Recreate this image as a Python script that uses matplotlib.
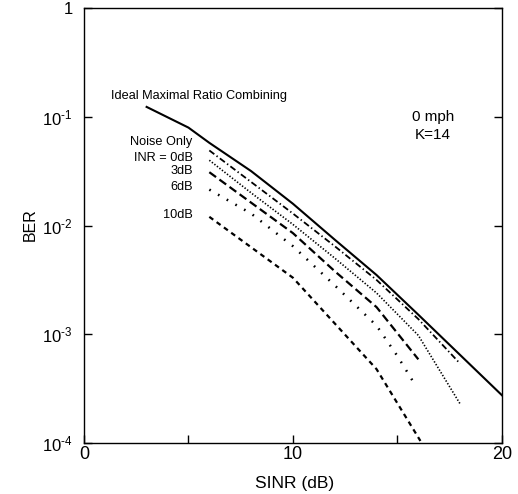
import matplotlib
matplotlib.use("Agg")
import matplotlib.pyplot as plt
import numpy as np

plt.rcParams['font.family'] = ['Liberation Sans', 'DejaVu Sans']
plt.rcParams['mathtext.fontset'] = 'custom'
plt.rcParams['mathtext.rm'] = 'Liberation Sans'
plt.rcParams['mathtext.it'] = 'Liberation Sans'
plt.rcParams['lines.scale_dashes'] = False

# data: SINR (dB) and -log10(BER)
mrc_x = [3, 5, 6, 8, 10, 12, 14, 16, 18, 20]
mrc_d = [0.91, 1.10, 1.24, 1.50, 1.80, 2.13, 2.455, 2.82, 3.19, 3.56]

noise_x = [6, 8, 10, 12, 14, 16, 18]
noise_d = [1.31, 1.60, 1.89, 2.19, 2.50, 2.86, 3.27]

inr0_x = [6, 8, 10, 12, 14, 16, 18]
inr0_d = [1.40, 1.70, 1.99, 2.30, 2.62, 3.01, 3.64]

inr3_x = [6, 8, 10, 12, 14, 16]
inr3_d = [1.51, 1.79, 2.07, 2.42, 2.75, 3.23]

inr6_x = [6, 8, 10, 12, 14, 15, 15.8]
inr6_d = [1.67, 1.89, 2.19, 2.55, 2.92, 3.20, 3.45]

inr10_x = [6, 8, 10, 12, 14, 16.1]
inr10_d = [1.92, 2.20, 2.48, 2.90, 3.32, 3.98]

ytick_vals = [1e-4, 1e-3, 1e-2, 1e-1, 1]
ytick_text = ['$10^{\u20104}$', '$10^{\u20103}$', '$10^{\u20102}$', '$10^{\u20101}$', '1']

def ber(d):
    return 10.0 ** (-np.array(d))

fig = plt.figure(figsize=(5.18, 4.94), dpi=100)
ax = fig.add_axes([0.162, 0.103, 0.807, 0.881])

ax.plot(mrc_x, ber(mrc_d), color='black', lw=1.5, ls='-')
ax.plot(noise_x, ber(noise_d), color='black', lw=1.3, ls=(0, (4.5, 2, 1, 2)))
ax.plot(inr0_x, ber(inr0_d), color='black', lw=1.2, ls=(0, (1, 1.3)))
ax.plot(inr3_x, ber(inr3_d), color='black', lw=1.6, ls=(0, (6, 3)))
ax.plot(inr6_x, ber(inr6_d), color='black', lw=1.8, ls=(0, (1.2, 6)))
ax.plot(inr10_x, ber(inr10_d), color='black', lw=1.6, ls=(0, (3.5, 3)))

ax.set_yscale('log')
ax.set_xlim(0, 20)
ax.set_ylim(1e-4, 1)
ax.set_xticks([0, 5, 10, 15, 20])
ax.set_xticklabels(['0', '', '10', '', '20'])
ax.set_yticks(ytick_vals)
ax.set_yticklabels(ytick_text)
ax.yaxis.set_minor_locator(matplotlib.ticker.NullLocator())
ax.tick_params(axis='both', direction='in', length=6, width=1, labelsize=12)
ax.tick_params(axis='x', pad=2, labelsize=13)
ax.tick_params(axis='y', right=True, pad=8)
for s in ax.spines.values():
    s.set_linewidth(1.0)

fig.text(295 / 518, 1 - 483 / 494, 'SINR (dB)', fontsize=12.5, ha='center', va='center')
fig.text(30 / 518, 1 - 225 / 494, 'BER', fontsize=11.5, rotation=90, ha='center', va='center')

fs = 9.2
ax.text(1.3, 10 ** -0.81, 'Ideal Maximal Ratio Combining', fontsize=fs, va='center')
ax.text(5.2, 10 ** -1.23, 'Noise Only', fontsize=fs, va='center', ha='right')
ax.text(5.2, 10 ** -1.38, 'INR = 0dB', fontsize=fs, va='center', ha='right')
ax.text(5.2, 10 ** -1.50, '3dB', fontsize=fs, va='center', ha='right')
ax.text(5.2, 10 ** -1.65, '6dB', fontsize=fs, va='center', ha='right')
ax.text(5.2, 10 ** -1.90, '10dB', fontsize=fs, va='center', ha='right')
ax.text(16.7, 10 ** -1.00, '0 mph', fontsize=11, va='center', ha='center')
ax.text(16.7, 10 ** -1.17, 'K=14', fontsize=11, va='center', ha='center')

fig.savefig('out.png', dpi=100)
